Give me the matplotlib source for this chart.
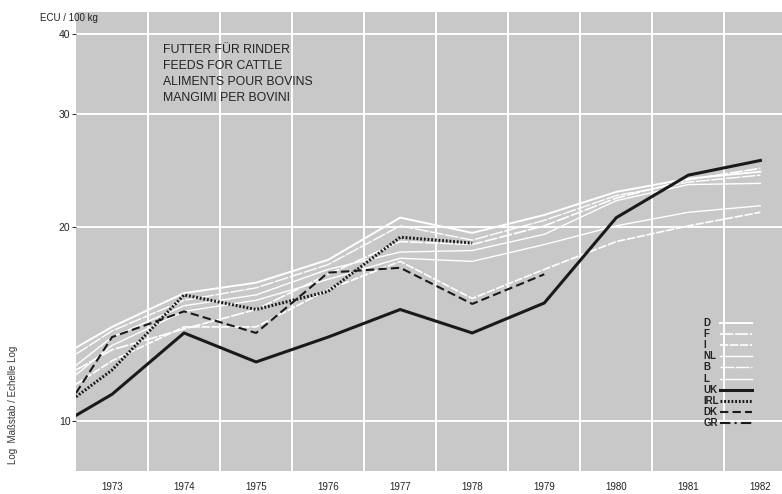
import matplotlib.pyplot as plt
from matplotlib.ticker import FixedLocator, NullFormatter

# years: first point sits at the left edge (1972.5)
years = [1972.5, 1973, 1974, 1975, 1976, 1977, 1978, 1979, 1980, 1981, 1982]

# white series (EC-6)
d_vals = [13.0, 14.0, 15.8, 16.4, 17.8, 20.7, 19.6, 20.9, 22.7, 23.8, 24.4]
f_vals = [12.0, 12.9, 13.9, 14.9, 16.9, 19.0, 18.8, 20.1, 22.2, 23.7, 24.7]
i_vals = [11.4, 12.4, 14.0, 14.0, 16.0, 17.7, 15.5, 17.2, 19.0, 20.1, 21.1]
nl_vals = [12.2, 13.5, 15.1, 15.7, 17.2, 18.3, 18.4, 19.5, 22.0, 23.3, 23.4]
b_vals = [12.7, 13.8, 15.4, 16.1, 17.5, 20.1, 19.1, 20.5, 22.4, 23.5, 24.1]
l_vals = [11.8, 13.1, 14.8, 15.4, 16.6, 17.9, 17.7, 18.8, 20.1, 21.1, 21.6]

# black series
uk_vals = [10.2, 11.0, 13.7, 12.35, 13.5, 14.9, 13.7, 15.25, 20.7, 24.1, 25.4]
irl_years = [1972.5, 1973, 1974, 1975, 1976, 1977, 1978]
irl_vals = [10.9, 12.0, 15.7, 14.9, 15.9, 19.3, 18.9]
dk_years = [1972.5, 1973, 1974, 1975, 1976, 1977, 1978, 1979]
dk_vals = [11.05, 13.5, 14.8, 13.7, 17.0, 17.3, 15.2, 16.9]
gr_years = []
gr_vals = []

year_labels = [1973, 1974, 1975, 1976, 1977, 1978, 1979, 1980, 1981, 1982]
y_ticks = [10, 20, 30, 40]

plt.rcParams['font.family'] = ['Liberation Sans', 'DejaVu Sans']

fig = plt.figure(figsize=(7.82, 4.94), dpi=100)
ax = fig.add_axes([0.0972, 0.0466, 0.9028, 0.929])
ax.set_facecolor('#c8c8c8')

ax.set_yscale('log')
ax.set_xlim(1972.5, 1982.3)
ax.set_ylim(8.36, 43.2)

ax.yaxis.set_major_locator(FixedLocator(y_ticks))
ax.set_yticklabels([str(t) for t in y_ticks])
ax.yaxis.set_minor_locator(FixedLocator([]))
ax.yaxis.set_minor_formatter(NullFormatter())
ax.set_xticks(year_labels)
ax.set_xticklabels([str(y) for y in year_labels])
ax.set_xticks([y + 0.5 for y in range(1973, 1982)], minor=True)

ax.tick_params(axis='y', which='major', direction='out', length=3, width=0.8,
               color='#333333', labelsize=7.5, pad=1, labelcolor='#222222')
ax.tick_params(axis='x', which='both', length=0, labelsize=7, pad=8, labelcolor='#222222')
for s in ax.spines.values():
    s.set_visible(False)

ax.grid(True, axis='y', which='major', color='white', lw=1.4)
ax.grid(True, axis='x', which='minor', color='white', lw=1.4)
ax.set_axisbelow(True)

w = 'white'
k = '#1a1a1a'
series = [
    ('D', years, d_vals, w, 1.4, '-'),
    ('F', years, f_vals, w, 1.2, (0, (8, 1))),
    ('I', years, i_vals, w, 1.2, (0, (5, 1))),
    ('NL', years, nl_vals, w, 1.0, '-'),
    ('B', years, b_vals, w, 1.0, (0, (10, 1))),
    ('L', years, l_vals, w, 1.0, '-'),
    ('UK', years, uk_vals, k, 2.2, '-'),
    ('IRL', irl_years, irl_vals, k, 2.2, (0, (0.6, 0.6))),
    ('DK', dk_years, dk_vals, k, 1.5, (0, (4, 2))),
    ('GR', gr_years, gr_vals, k, 1.5, (0, (5, 2, 1, 2))),
]
for name, xs, ys, c, lw, ls in series:
    ax.plot(xs, ys, color=c, lw=lw, ls=ls)

# hand-made key: labels on the left, line samples on the right
for n, (name, xs, ys, c, lw, ls) in enumerate(series):
    yy = 0.322 - n * 0.0241
    ax.text(0.889, yy, name, transform=ax.transAxes, fontsize=7, fontweight='bold',
            color='#222222', ha='left', va='center')
    ax.plot([0.912, 0.957], [yy, yy], transform=ax.transAxes, color=c, lw=lw, ls=ls)

ax.text(0.123, 0.93, 'FUTTER FÜR RINDER\nFEEDS FOR CATTLE\nALIMENTS POUR BOVINS\nMANGIMI PER BOVINI',
        transform=ax.transAxes, fontsize=8.8, va='top', ha='left', color='#222222',
        linespacing=1.45)

fig.text(0.051, 0.963, 'ECU / 100 kg', fontsize=7, ha='left', va='center', color='#222222')
fig.text(0.016, 0.18, 'Log  Maßstab / Echelle Log', rotation=90, fontsize=7,
         ha='center', va='center', color='#333333')

fig.savefig('out.png', dpi=100)
